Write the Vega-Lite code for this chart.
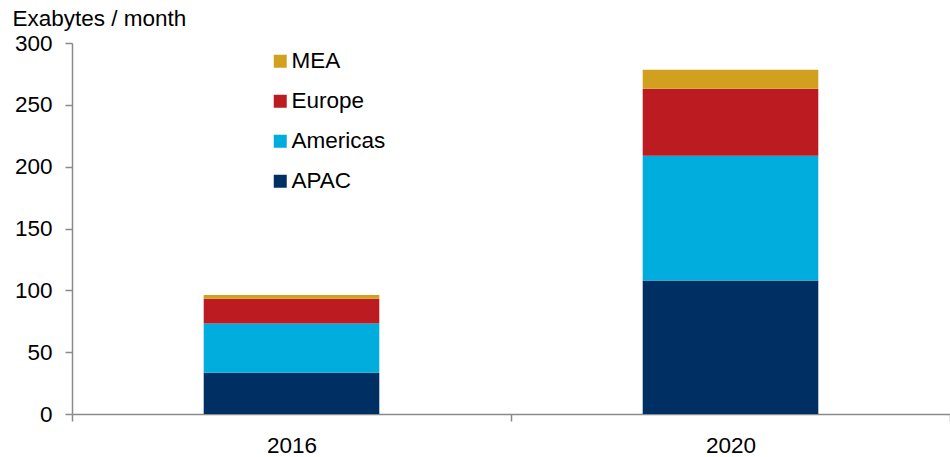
{
  "$schema": "https://vega.github.io/schema/vega-lite/v6.json",
  "autosize": {"type": "none"},
  "width": 878,
  "height": 371,
  "padding": {"left": 72, "top": 43, "right": 0, "bottom": 43},
  "background": "white",
  "title": {
    "text": "Monthly mobile data traffic by region",
    "font": "Liberation Sans",
    "fontSize": 28,
    "fontWeight": "bold",
    "color": "black",
    "anchor": "start",
    "frame": "group",
    "dx": 76,
    "offset": 4,
    "baseline": "alphabetic"
  },
  "config": {
    "view": {"stroke": null},
    "font": "Liberation Sans"
  },
  "data": {
    "values": [
      {"year": "2016", "region": "APAC", "value": 33.4},
      {"year": "2016", "region": "Americas", "value": 39.7},
      {"year": "2016", "region": "Europe", "value": 20.0},
      {"year": "2016", "region": "MEA", "value": 3.2},
      {"year": "2020", "region": "APAC", "value": 107.9},
      {"year": "2020", "region": "Americas", "value": 100.9},
      {"year": "2020", "region": "Europe", "value": 54.2},
      {"year": "2020", "region": "MEA", "value": 15.4}
    ]
  },
  "mark": {"type": "bar", "width": {"band": 0.4}},
  "encoding": {
    "x": {
      "field": "year",
      "type": "nominal",
      "scale": {"paddingInner": 0, "paddingOuter": 0},
      "axis": {
        "title": null,
        "labelAngle": 0,
        "labelFontSize": 22.5,
        "labelColor": "black",
        "labelPadding": 13,
        "tickBand": "extent",
        "tickSize": 7,
        "tickColor": "#8a8a8a",
        "tickWidth": 1.5,
        "domainColor": "#8a8a8a",
        "domainWidth": 1.5,
        "grid": false
      }
    },
    "y": {
      "field": "value",
      "type": "quantitative",
      "stack": "zero",
      "scale": {"domain": [0, 300], "nice": false},
      "axis": {
        "title": "Exabytes / month",
        "titleAngle": 0,
        "titleAlign": "left",
        "titleBaseline": "alphabetic",
        "titleX": -60,
        "titleY": -18,
        "titleFontSize": 22.5,
        "titleFontWeight": "normal",
        "titleColor": "black",
        "values": [0, 50, 100, 150, 200, 250, 300],
        "labelFontSize": 22.5,
        "labelColor": "black",
        "labelPadding": 13,
        "tickSize": 7,
        "tickColor": "#8a8a8a",
        "tickWidth": 1.5,
        "domainColor": "#8a8a8a",
        "domainWidth": 1.5,
        "grid": false
      }
    },
    "color": {
      "field": "region",
      "type": "nominal",
      "scale": {
        "domain": ["MEA", "Europe", "Americas", "APAC"],
        "range": ["#D1A01F", "#BD1B22", "#00ADDC", "#003063"]
      },
      "legend": {
        "title": null,
        "orient": "none",
        "legendX": 197,
        "legendY": 7,
        "symbolType": "square",
        "symbolSize": 169,
        "symbolStrokeWidth": 0,
        "labelFontSize": 22.5,
        "labelColor": "black",
        "labelOffset": 0,
        "rowPadding": 17
      }
    },
    "order": {"field": "region", "sort": "ascending"}
  }
}
